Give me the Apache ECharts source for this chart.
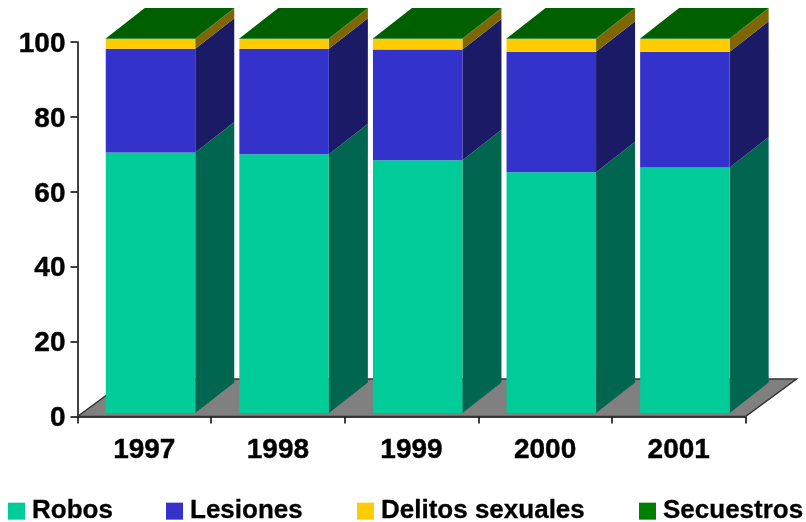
<!DOCTYPE html>
<html>
<head>
<meta charset="utf-8">
<style>
  html, body { margin: 0; padding: 0; background: #fff; }
  #main { width: 806px; height: 522px; }
</style>
<script src="https://cdn.jsdelivr.net/npm/echarts@6/dist/echarts.min.js"></script>
</head>
<body>
<div id="main"></div>
<script>
const years = ['1997', '1998', '1999', '2000', '2001'];
const robos = [69.6, 69.1, 67.5, 64.3, 65.6];
const lesiones = [27.7, 28.2, 29.6, 32.2, 30.9];
const delitos = [2.6, 2.6, 2.8, 3.4, 3.4];
const secuestros = [0.1, 0.1, 0.1, 0.1, 0.1];
const yTicks = { min: 0, max: 100, interval: 20 };

const font = 'Liberation Sans, Arial, sans-serif';

// profundidad del efecto 3D
const floorDx = 51, floorDy = -37.5;
const barShiftX = 6.2, barShiftY = -3.4;
const depthX = 39, depthY = -30.5;

const layers = [
  { name: 'Robos', values: robos, front: '#00CC99', side: '#006650' },
  { name: 'Lesiones', values: lesiones, front: '#3333CC', side: '#1A1A66' },
  { name: 'Delitos sexuales', values: delitos, front: '#FFCC00', side: '#806600' },
  { name: 'Secuestros', values: secuestros, front: '#008000', side: '#004000', top: '#006000' }
];

// acumulado por año
const base = years.map(() => 0);
const seriesBars = layers.map(function (layer) {
  const data = layer.values.map(function (v, i) {
    const row = [i, base[i], base[i] + v];
    base[i] += v;
    return row;
  });
  return {
    name: layer.name,
    type: 'custom',
    z: 3,
    itemStyle: { color: layer.front },
    encode: { x: 0, y: [1, 2] },
    data: data,
    renderItem: function (params, api) {
      const low = api.coord([api.value(0), api.value(1)]);
      const high = api.coord([api.value(0), api.value(2)]);
      const w = api.size([1, 0])[0] * 0.67;
      const x0 = low[0] - w / 2 + barShiftX;
      const x1 = x0 + w;
      const y0 = low[1] + barShiftY;
      const y1 = high[1] + barShiftY;
      const children = [
        {
          type: 'polygon',
          shape: { points: [[x1, y0], [x1 + depthX, y0 + depthY], [x1 + depthX, y1 + depthY], [x1, y1]] },
          style: { fill: layer.side }
        },
        {
          type: 'rect',
          shape: { x: x0, y: y1, width: w, height: y0 - y1 },
          style: { fill: layer.front }
        }
      ];
      if (layer.top) {
        children.push({
          type: 'polygon',
          shape: { points: [[x0, y1], [x0 + depthX, y1 + depthY], [x1 + depthX, y1 + depthY], [x1, y1]] },
          style: { fill: layer.top }
        });
      }
      return { type: 'group', children: children };
    }
  };
});

// piso gris
const seriesFloor = {
  type: 'custom',
  z: 1,
  silent: true,
  data: [[0]],
  renderItem: function (params) {
    const g = params.coordSys;
    const yb = g.y + g.height;
    return {
      type: 'polygon',
      shape: { points: [[g.x, yb], [g.x + floorDx, yb + floorDy], [g.x + g.width + floorDx, yb + floorDy], [g.x + g.width, yb]] },
      style: { fill: '#808080', stroke: '#333333', lineWidth: 1.5 }
    };
  }
};

const legendLefts = [8, 166, 357, 639];
const labelStyle = { fontFamily: font, fontWeight: 'bold', fontSize: 28, color: '#000', textBorderColor: '#000', textBorderWidth: 0.4 };

const myChart = echarts.init(document.getElementById('main'));
myChart.setOption({
  animation: false,
  backgroundColor: '#fff',
  grid: { left: 77.5, right: 60.5, top: 42, height: 374.5 },
  legend: layers.map(function (layer, i) {
    return {
      data: [layer.name],
      left: legendLefts[i],
      top: 498,
      padding: 0,
      icon: 'rect',
      itemWidth: 17,
      itemHeight: 17,
      itemGap: 0,
      selectedMode: false,
      textStyle: { fontFamily: font, fontWeight: 'bold', fontSize: 26, color: '#000', textBorderColor: '#000', textBorderWidth: 0.3, padding: [4, 0, 0, 2] }
    };
  }),
  xAxis: {
    type: 'category',
    data: years,
    axisLine: { lineStyle: { color: '#000', width: 1.5 } },
    axisTick: { show: true, length: 7, lineStyle: { color: '#000', width: 1.5 } },
    axisLabel: Object.assign({ margin: 20 }, labelStyle)
  },
  yAxis: {
    type: 'value',
    min: yTicks.min,
    max: yTicks.max,
    interval: yTicks.interval,
    splitLine: { show: false },
    axisLine: { show: true, lineStyle: { color: '#000', width: 1.5 } },
    axisTick: { show: true, length: 7, lineStyle: { color: '#000', width: 1.5 } },
    axisLabel: {
      margin: 12,
      formatter: '{v|{value}}',
      rich: { v: Object.assign({ padding: [4, 0, 0, 0] }, labelStyle) }
    }
  },
  series: [seriesFloor].concat(seriesBars)
});
window.onresize = function () {
  myChart.resize();
};
</script>
</body>
</html>
